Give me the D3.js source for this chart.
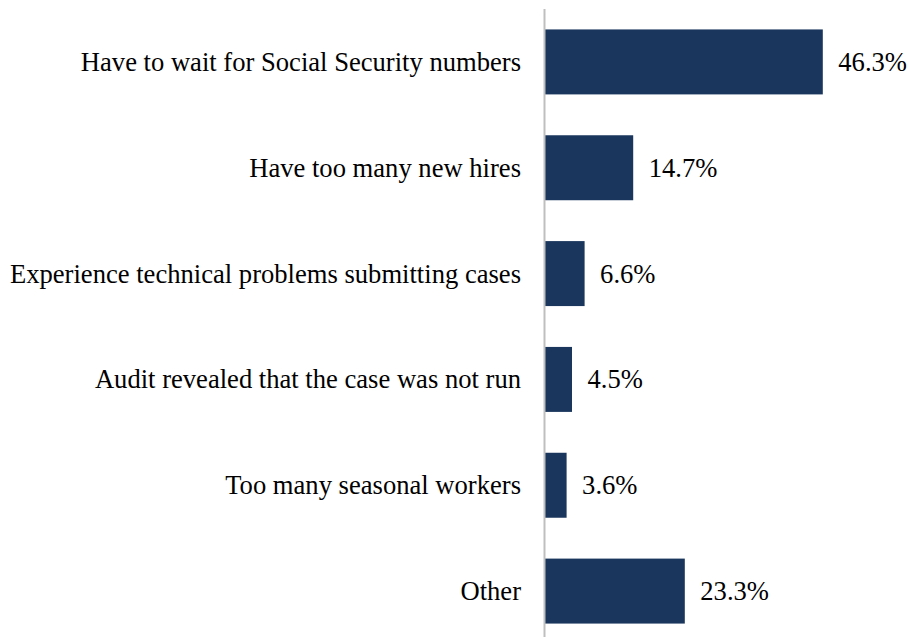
<!DOCTYPE html>
<html><head><meta charset="utf-8">
<script src="https://cdn.jsdelivr.net/npm/d3@7"></script>
<style>body{margin:0;background:#fff;}svg{display:block;}</style>
</head><body>
<script>
const categories = ["Have to wait for Social Security numbers","Have too many new hires","Experience technical problems submitting cases","Audit revealed that the case was not run","Too many seasonal workers","Other"];
const values = [46.3, 14.7, 6.6, 4.5, 3.6, 23.3];
const valueLabels = ["46.3%","14.7%","6.6%","4.5%","3.6%","23.3%"];

const W = 910, H = 637;
const svg = d3.select("body").append("svg").attr("width", W).attr("height", H);
const x = d3.scaleLinear().domain([0, 50]).range([545, 845]);
const y = d3.scaleBand().domain(categories).range([9, 644]).paddingInner(0.386).paddingOuter(0.193);
const font = "'Liberation Serif','Times New Roman',serif";

svg.selectAll("rect.bar").data(values).join("rect")
  .attr("x", x(0)).attr("y", (d,i)=>y(categories[i]))
  .attr("width", d=>x(d)-x(0)).attr("height", y.bandwidth())
  .attr("fill", "#1a365d");

svg.append("line").attr("x1", 544.5).attr("x2", 544.5).attr("y1", 9).attr("y2", H)
  .attr("stroke", "#bfbfbf").attr("stroke-width", 2);

svg.selectAll("text.cat").data(categories).join("text")
  .attr("x", 521).attr("y", d=>y(d)+y.bandwidth()/2)
  .attr("text-anchor", "end").attr("dominant-baseline", "central")
  .style("font-family", font).style("font-size", "26.6px").attr("fill", "#000")
  .text(d=>d);

svg.selectAll("text.val").data(values).join("text")
  .attr("x", d=>x(d)+15.5).attr("y", (d,i)=>y(categories[i])+y.bandwidth()/2)
  .attr("dominant-baseline", "central")
  .style("font-family", font).style("font-size", "26.6px").attr("fill", "#000")
  .text((d,i)=>valueLabels[i]);
</script>
</body></html>
